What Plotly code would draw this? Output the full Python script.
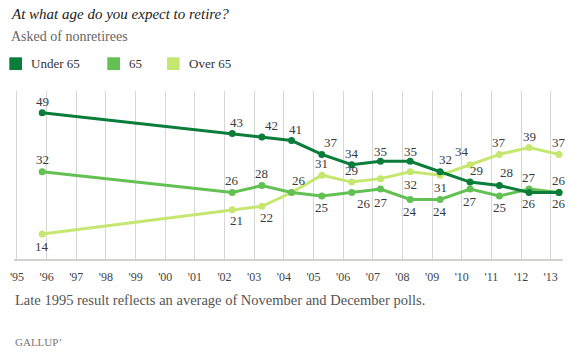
import plotly.graph_objects as go

# ---- data ----
years = [1995.85, 2002.26, 2003.26, 2004.26, 2005.28, 2006.29, 2007.26,
         2008.26, 2009.27, 2010.28, 2011.27, 2012.27, 2013.28]
under65 = [49, 43, 42, 41, 37, 34, 35, 35, 32, 29, 28, 26, 26]
at65 = [32, 26, 28, 26, 25, 26, 27, 24, 24, 27, 25, 27, 26]
over65 = [14, 21, 22, 26, 31, 29, 30, 32, 31, 34, 37, 39, 37]
series_names = ["Under 65", "65", "Over 65"]
tick_years = list(range(1995, 2014))
tick_labels = ["'%02d" % (y % 100) for y in tick_years]

title = "At what age do you expect to retire?"
subtitle = "Asked of nonretirees"
footnote = "Late 1995 result reflects an average of November and December polls."
brand = "GALLUP\u2019"

# ---- styles ----
colors = ["#0a7d3a", "#62c152", "#c6e76f"]
FONT = "Liberation Serif, Times New Roman, serif"
# label offsets (dx, dy in px; dy positive = down), None = no label
off_under = [(0, -11), (4, -11), (10, -12), (4, -11), (9, -12), (0, -11), (0, -10),
             (0, -10), (5, -12), (6, -12), (7, -13), (0, 11), (0, 11)]
off_65 = [(0, -12), (0, -12), (0, -12), (7, -12), (0, 12), (12, 11), (0, 13),
          (0, 12), (0, 12), (0, 12), (0, 12), (0, -12), (0, -12)]
off_over = [(0, 12), (4, 11), (5, 11), None, (0, -12), (0, -12), None,
            (0, 13), (0, 12), (-8, -13), (0, -12), (0, -11), (0, -12)]

L, R, T, B = 14, 6, 91, 95
W, H = 569, 354
PW, PH = W - L - R, H - T - B


def px(x):
    return (x - L) / PW


def py(y):
    return (H - B - y) / PH


fig = go.Figure()
all_series = [under65, at65, over65]
offsets = [off_under, off_65, off_over]
for idx in [2, 1, 0]:
    fig.add_trace(go.Scatter(
        x=years, y=all_series[idx], mode="lines+markers",
        name=series_names[idx],
        line=dict(color=colors[idx], width=3),
        marker=dict(color=colors[idx], size=7),
        hoverinfo="skip", showlegend=False))

annotations = []
for vals, offs in zip(all_series, offsets):
    for xv, yv, o in zip(years, vals, offs):
        if o is None:
            continue
        annotations.append(dict(
            x=xv, y=yv, xref="x", yref="y", text=str(yv), showarrow=False,
            xshift=o[0], yshift=-o[1],
            font=dict(family=FONT, size=13, color="#3a3a3a")))

# title / subtitle
annotations.append(dict(x=px(9), y=py(14), xref="paper", yref="paper", text="<i>" + title + "</i>",
                        showarrow=False, xanchor="left", yanchor="middle",
                        font=dict(family=FONT, size=15, color="#222222")))
annotations.append(dict(x=px(9), y=py(36), xref="paper", yref="paper", text=subtitle,
                        showarrow=False, xanchor="left", yanchor="middle",
                        font=dict(family=FONT, size=14, color="#666666")))

# legend
leg_sq_x = [9.3, 107.3, 167]
leg_txt_x = [29, 127, 187]
shapes = []
for i in range(3):
    shapes.append(dict(type="rect", xref="paper", yref="paper",
                       x0=px(leg_sq_x[i]), x1=px(leg_sq_x[i] + 12.7),
                       y0=py(70), y1=py(57.3), fillcolor=colors[i], line=dict(width=0)))
    annotations.append(dict(x=px(leg_txt_x[i]), y=py(63.5), xref="paper", yref="paper",
                            text=series_names[i], showarrow=False, xanchor="left",
                            yanchor="middle",
                            font=dict(family=FONT, size=13, color="#333333")))

# footnote and brand
annotations.append(dict(x=px(13), y=py(300), xref="paper", yref="paper", text=footnote,
                        showarrow=False, xanchor="left", yanchor="middle",
                        font=dict(family=FONT, size=14.5, color="#555555")))
annotations.append(dict(x=px(13), y=py(342), xref="paper", yref="paper", text=brand,
                        showarrow=False, xanchor="left", yanchor="middle",
                        font=dict(family=FONT, size=11, color="#777777")))

fig.update_layout(
    width=W, height=H, margin=dict(l=L, r=R, t=T, b=B),
    paper_bgcolor="white", plot_bgcolor="white",
    showlegend=False, annotations=annotations, shapes=shapes,
    xaxis=dict(range=[1994.899, 2013.415], tickmode="array", tickvals=tick_years,
               ticktext=tick_labels, showgrid=True, gridcolor="#d6d6d6", gridwidth=1,
               showline=True, linecolor="#d3d3cc", linewidth=2,
               ticks="outside", ticklen=6, tickcolor="rgba(0,0,0,0)",
               tickfont=dict(family=FONT, size=12, color="#444444"),
               zeroline=False, fixedrange=True),
    yaxis=dict(range=[6.8, 55.3], visible=False, showgrid=False, zeroline=False,
               fixedrange=True),
)

fig.write_html("out.html")
